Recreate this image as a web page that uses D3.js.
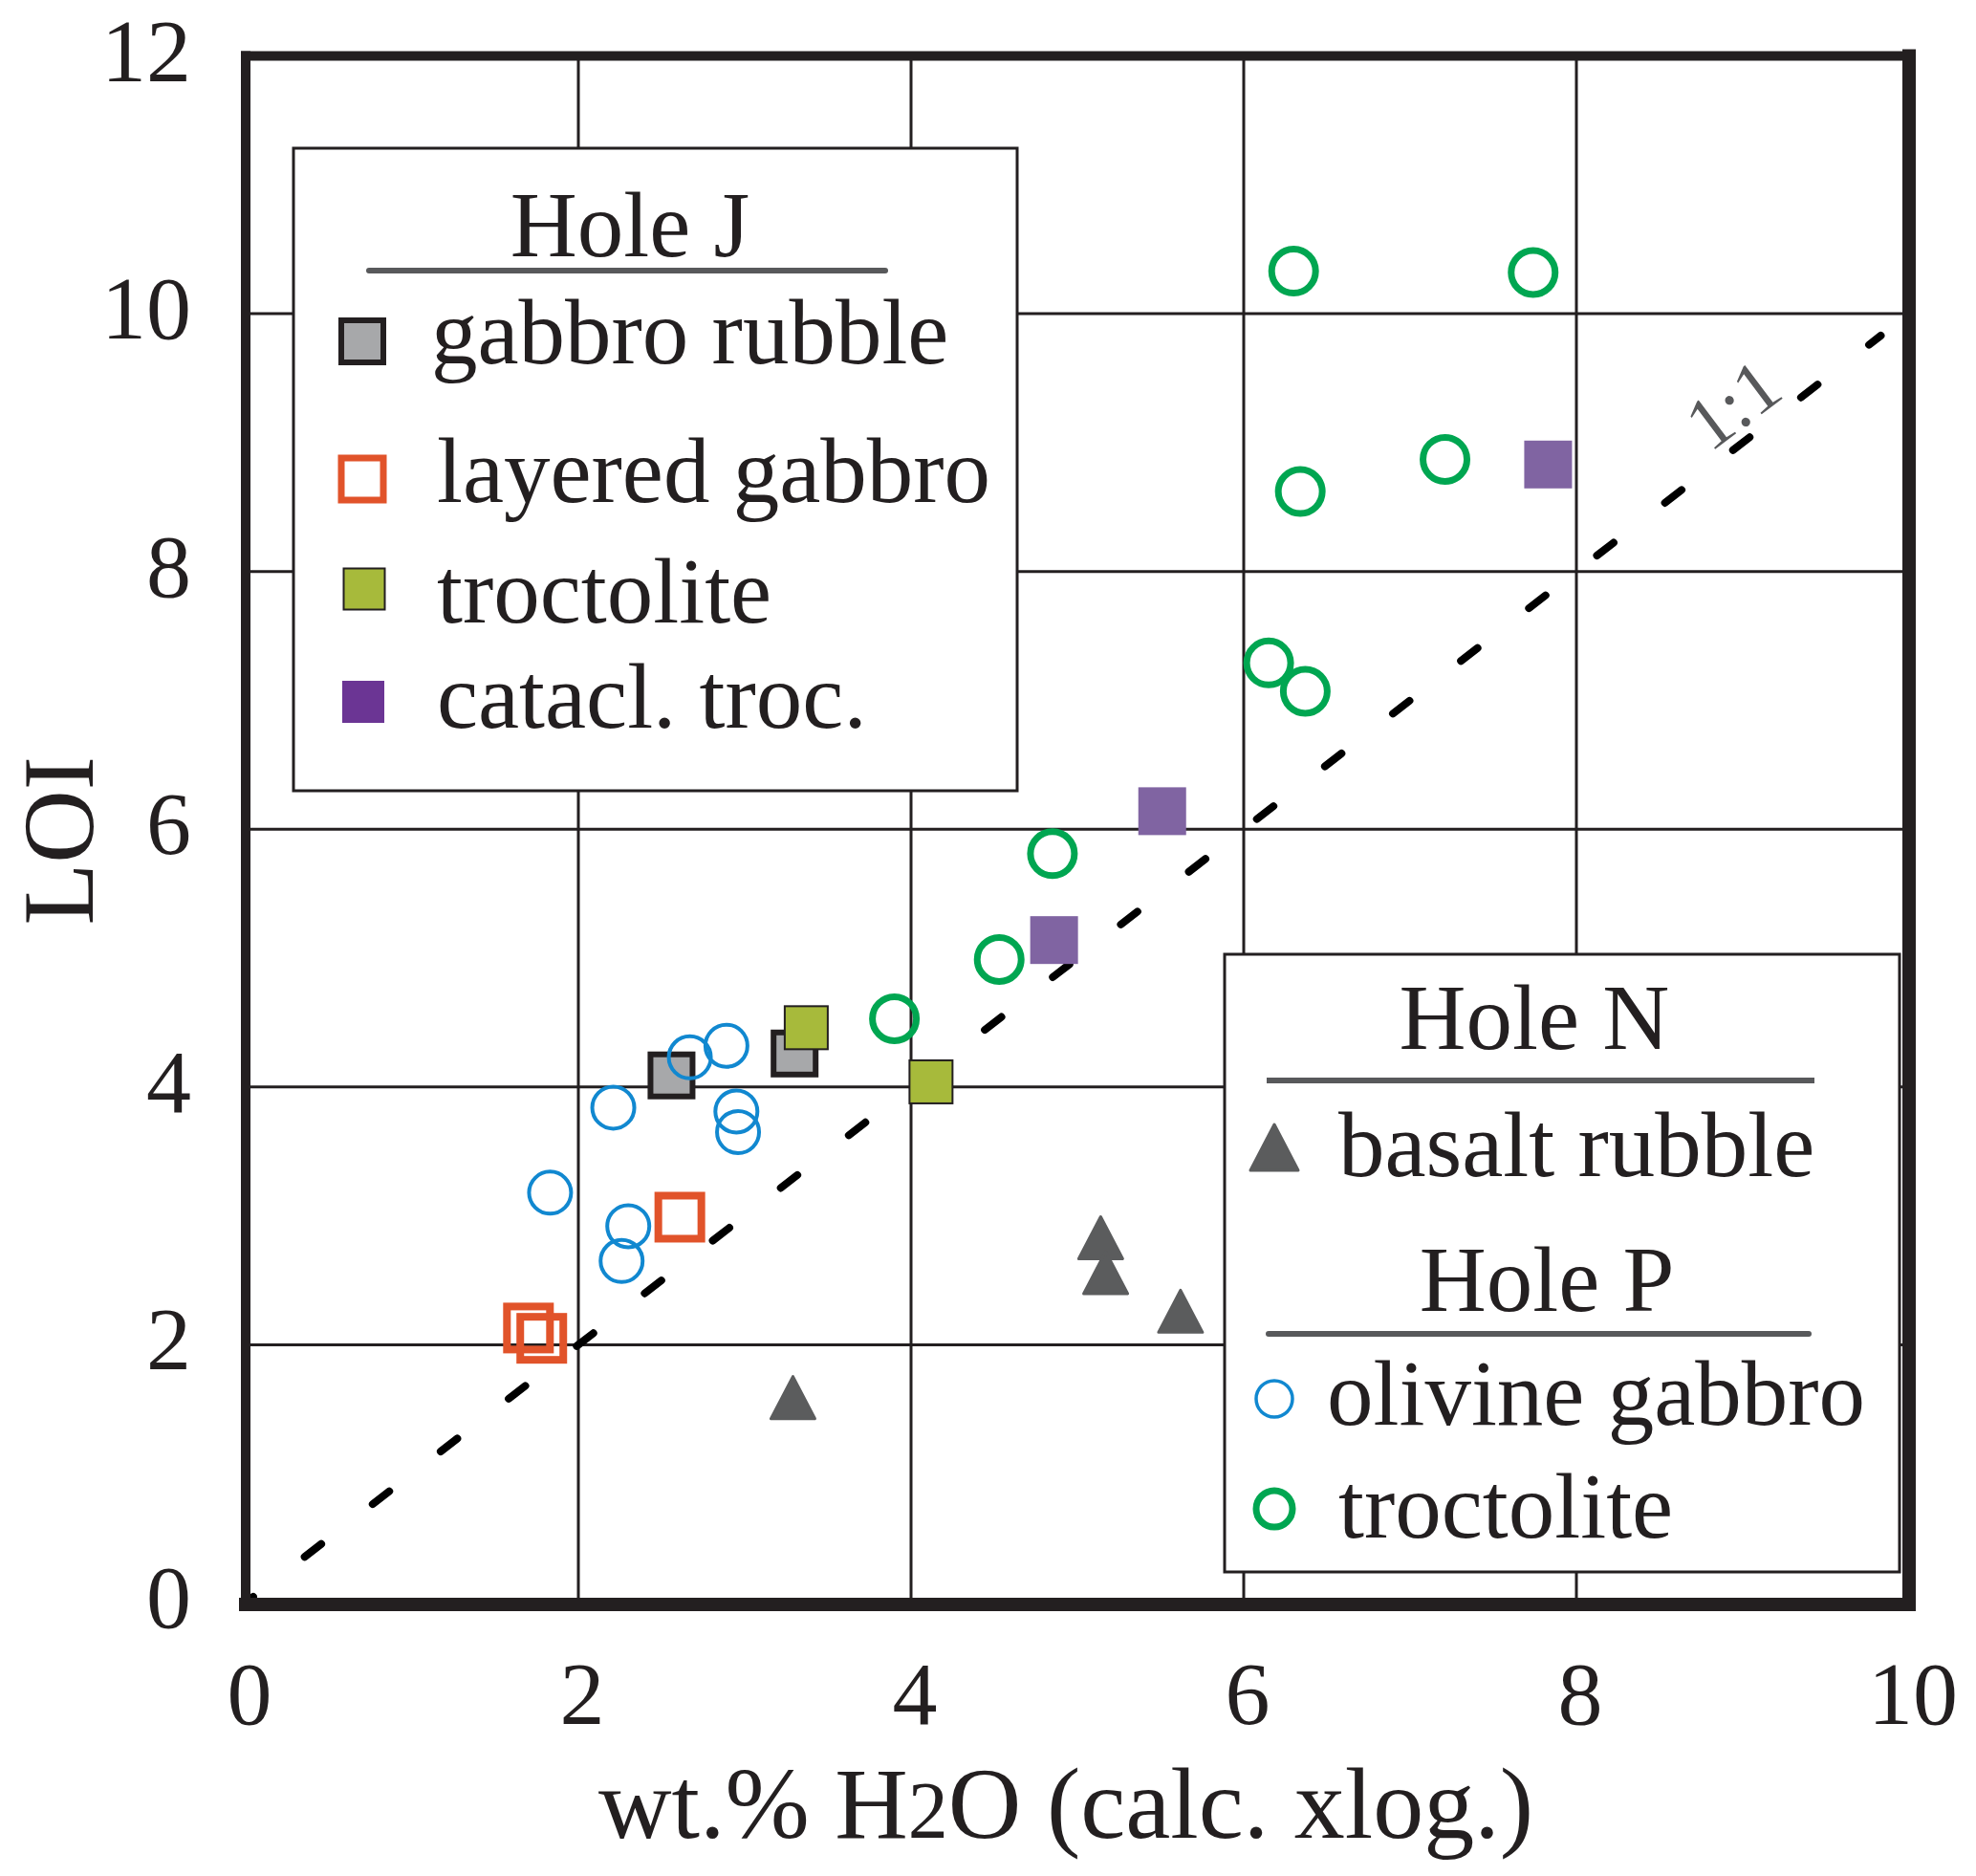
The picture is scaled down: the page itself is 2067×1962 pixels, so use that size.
<!DOCTYPE html>
<html><head><meta charset="utf-8">
<script src="https://cdn.jsdelivr.net/npm/d3@7"></script>
<style>body{margin:0;background:#fff}svg{display:block}</style>
</head><body><svg id="c" width="2067" height="1962"></svg>
<script>
// ---------- data ----------
const xTicks = [0, 2, 4, 6, 8, 10];
const yTicks = [0, 2, 4, 6, 8, 10, 12];
const xTitle = "wt.% H2O (calc. xlog.)";
const yTitle = "LOI";
const legendJTitle = "Hole J";
const legendJLabels = ["gabbro rubble", "layered gabbro", "troctolite", "catacl. troc."];
const legendNTitle = "Hole N";
const legendNLabels = ["basalt rubble"];
const legendPTitle = "Hole P";
const legendPLabels = ["olivine gabbro", "troctolite"];
const oneToOne = [[0, 0], [9.83, 9.83]];

// Hole J
const gabbroRubble = [[2.56, 4.09], [3.30, 4.26]];
const layeredGabbro = [[2.61, 2.99], [1.70, 2.13], [1.78, 2.05]];
const troctoliteJ = [[3.37, 4.46], [4.12, 4.04]];
const cataclTroc = [[4.86, 5.14], [5.51, 6.14], [7.83, 8.83]];
// Hole N
const basaltRubble = [[5.14, 2.83], [5.17, 2.56], [5.62, 2.26], [3.29, 1.59]];
// Hole P
const olivineGabbro = [[2.67, 4.23], [2.89, 4.32], [2.21, 3.84], [2.95, 3.81], [2.96, 3.65], [1.83, 3.18], [2.30, 2.92], [2.26, 2.65]];
const troctoliteP = [[6.30, 10.33], [7.74, 10.32], [7.21, 8.87], [6.34, 8.62], [6.15, 7.29], [6.37, 7.07], [4.85, 5.81], [4.53, 4.99], [3.90, 4.53]];

// ---------- setup ----------
const FONT = '"Liberation Serif","Times New Roman",Times,serif';
const INK = '#231f20';
const C = {
  gray: '#a7a8aa', orange: '#e1532a', olive: '#a7ba3b', purple: '#8064a2', purpleLeg: '#6b3594',
  blue: '#1188d0', green: '#00a651', tri: '#5b5c5d', rule: '#58595b'
};
const x = d3.scaleLinear().domain([0, 10]).range([257, 1997]);
const y = d3.scaleLinear().domain([0, 12]).range([1676, 58.5]);
const svg = d3.select('#c');
svg.append('rect').attr('width', 2067).attr('height', 1962).attr('fill', '#fff');

// gridlines
const grid = svg.append('g').attr('stroke', INK).attr('stroke-width', 3);
grid.selectAll('line.v').data(xTicks.filter(d => d > 0 && d < 10)).join('line')
  .attr('x1', d => x(d)).attr('x2', d => x(d)).attr('y1', y(12)).attr('y2', y(0));
grid.selectAll('line.h').data(yTicks.filter(d => d > 0 && d < 12)).join('line')
  .attr('y1', d => y(d)).attr('y2', d => y(d)).attr('x1', x(0)).attr('x2', x(10));

// 1:1 line
svg.append('path')
  .attr('d', d3.line().x(d => x(d[0])).y(d => y(d[1]))(oneToOne))
  .attr('fill', 'none').attr('stroke', '#000').attr('stroke-width', 8)
  .attr('stroke-linecap', 'round').attr('stroke-dasharray', '22,68').attr('stroke-dashoffset', 12);
{
  const lx = x(8.94), ly = y(8.94) - 48;
  svg.append('text').attr('transform', `translate(${lx},${ly}) rotate(-37)`)
    .attr('text-anchor', 'middle').attr('dominant-baseline', 'central')
    .attr('font-family', FONT).attr('font-size', 78).attr('fill', C.rule).text('1:1');
}

// marker helpers
function square(g, cx, cy, s, fill, stroke, sw) {
  return g.append('rect').attr('x', cx - s / 2).attr('y', cy - s / 2).attr('width', s).attr('height', s)
    .attr('fill', fill).attr('stroke', stroke).attr('stroke-width', sw);
}
function tri(g, cx, cy, hw, h, col) {
  return g.append('path').attr('d', `M${cx},${cy - h / 2}L${cx + hw},${cy + h / 2}L${cx - hw},${cy + h / 2}Z`)
    .attr('fill', col).attr('stroke', col).attr('stroke-width', 3).attr('stroke-linejoin', 'round');
}
function circ(g, cx, cy, r, col, sw) {
  return g.append('circle').attr('cx', cx).attr('cy', cy).attr('r', r)
    .attr('fill', 'none').attr('stroke', col).attr('stroke-width', sw);
}

// points
const pts = svg.append('g');
layeredGabbro.forEach(d => square(pts, x(d[0]), y(d[1]), 45, 'none', C.orange, 8));
gabbroRubble.forEach(d => square(pts, x(d[0]), y(d[1]), 44, C.gray, INK, 6));
troctoliteJ.forEach(d => square(pts, x(d[0]), y(d[1]), 45, C.olive, INK, 2));
cataclTroc.forEach(d => square(pts, x(d[0]), y(d[1]), 50, C.purple, 'none', 0));
olivineGabbro.forEach(d => circ(pts, x(d[0]), y(d[1]), 22, C.blue, 4));
basaltRubble.forEach(d => tri(pts, x(d[0]), y(d[1]), 23, 44, C.tri));
troctoliteP.forEach(d => circ(pts, x(d[0]), y(d[1]), 23, C.green, 7));

// frame
const fr = svg.append('g').attr('stroke', INK).attr('stroke-linecap', 'square');
fr.append('line').attr('x1', x(0)).attr('x2', x(10)).attr('y1', y(12)).attr('y2', y(12)).attr('stroke-width', 10);
fr.append('line').attr('x1', x(0)).attr('x2', x(10)).attr('y1', y(0) + 2).attr('y2', y(0) + 2).attr('stroke-width', 14);
fr.append('line').attr('x1', x(0)).attr('x2', x(0)).attr('y1', y(12)).attr('y2', y(0)).attr('stroke-width', 10);
fr.append('line').attr('x1', x(10)).attr('x2', x(10)).attr('y1', y(12)).attr('y2', y(0)).attr('stroke-width', 14);

// tick labels
const tl = svg.append('g').attr('font-family', FONT).attr('font-size', 94).attr('fill', INK);
tl.selectAll('text.x').data(xTicks).join('text').attr('x', d => x(d) + 4).attr('y', 1803)
  .attr('text-anchor', 'middle').text(d => d);
tl.selectAll('text.y').data(yTicks).join('text').attr('x', 200).attr('y', d => y(d) + 26)
  .attr('text-anchor', 'end').text(d => d);

// axis titles
const xt = svg.append('text').attr('x', 1115).attr('y', 1922).attr('text-anchor', 'middle')
  .attr('font-family', FONT).attr('font-size', 106).attr('fill', INK);
xt.append('tspan').text('wt.% H');
xt.append('tspan').attr('font-size', 84).text('2');
xt.append('tspan').text('O (calc. xlog.)');
svg.append('text').attr('transform', `translate(97,${(y(0) + y(12)) / 2 + 12}) rotate(-90)`)
  .attr('text-anchor', 'middle').attr('font-family', FONT).attr('font-size', 106).attr('fill', INK).text(yTitle);

// legend J
const L1 = svg.append('g').attr('font-family', FONT).attr('font-size', 97).attr('fill', INK);
L1.append('rect').attr('x', 307).attr('y', 155).attr('width', 757).attr('height', 672)
  .attr('fill', '#fff').attr('stroke', INK).attr('stroke-width', 3);
L1.append('text').attr('x', 659).attr('y', 268).attr('text-anchor', 'middle').text(legendJTitle);
L1.append('line').attr('x1', 386).attr('x2', 926).attr('y1', 283).attr('y2', 283)
  .attr('stroke', C.rule).attr('stroke-width', 6).attr('stroke-linecap', 'round');
const jRows = [
  { ty: 380, my: 357, tx: 451, draw: (g, cy) => square(g, 379, cy, 44, C.gray, INK, 6) },
  { ty: 525, my: 501, tx: 457, draw: (g, cy) => square(g, 379, cy, 44, '#fff', C.orange, 7) },
  { ty: 651, my: 616, tx: 457, draw: (g, cy) => square(g, 381, cy, 43, C.olive, INK, 2) },
  { ty: 761, my: 734, tx: 457, draw: (g, cy) => square(g, 380, cy, 44, C.purpleLeg, 'none', 0) }
];
legendJLabels.forEach((lab, i) => {
  const r = jRows[i];
  r.draw(L1, r.my);
  L1.append('text').attr('x', r.tx).attr('y', r.ty).text(lab);
});

// legend N/P
const L2 = svg.append('g').attr('font-family', FONT).attr('font-size', 97).attr('fill', INK);
L2.append('rect').attr('x', 1281).attr('y', 998).attr('width', 706).attr('height', 646)
  .attr('fill', '#fff').attr('stroke', INK).attr('stroke-width', 3);
L2.append('text').attr('x', 1605).attr('y', 1097).attr('text-anchor', 'middle').text(legendNTitle);
L2.append('line').attr('x1', 1325).attr('x2', 1898).attr('y1', 1130).attr('y2', 1130)
  .attr('stroke', C.rule).attr('stroke-width', 6);
tri(L2, 1333, 1200, 25, 48, C.tri);
L2.append('text').attr('x', 1400).attr('y', 1230).text(legendNLabels[0]);
L2.append('text').attr('x', 1618).attr('y', 1371).attr('text-anchor', 'middle').text(legendPTitle);
L2.append('line').attr('x1', 1327).attr('x2', 1892).attr('y1', 1395).attr('y2', 1395)
  .attr('stroke', C.rule).attr('stroke-width', 6).attr('stroke-linecap', 'round');
circ(L2, 1333, 1463, 19, C.blue, 3.5);
L2.append('text').attr('x', 1388).attr('y', 1490).text(legendPLabels[0]);
circ(L2, 1333, 1578, 19, C.green, 7);
L2.append('text').attr('x', 1400).attr('y', 1608).text(legendPLabels[1]);
</script></body></html>
